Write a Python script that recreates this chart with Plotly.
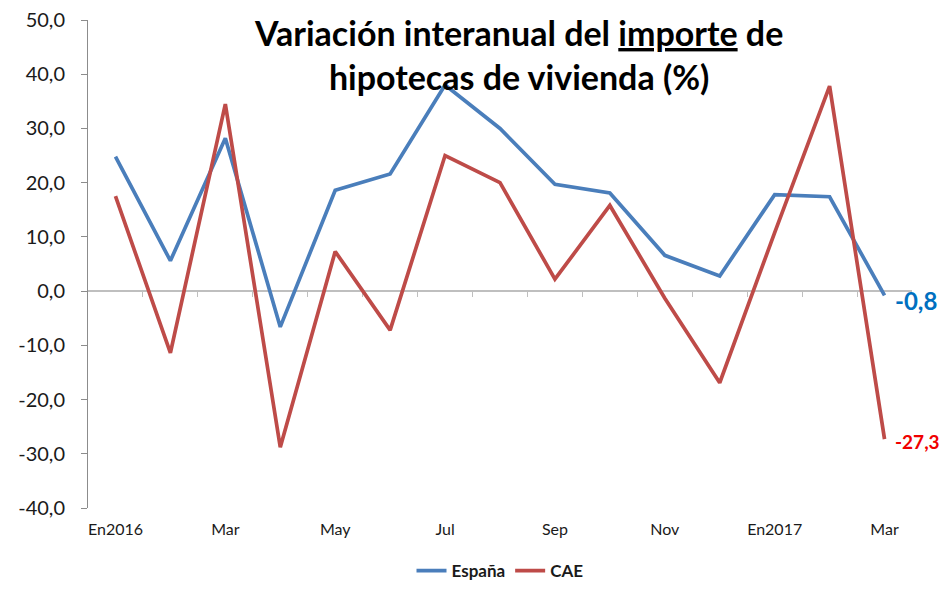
import plotly.graph_objects as go

# Months shown on the horizontal axis (only every other one gets a label).
months = ["En2016", "Feb", "Mar", "Abr", "May", "Jun", "Jul", "Ago",
          "Sep", "Oct", "Nov", "Dic", "En2017", "Feb", "Mar"]

# Year-on-year change in mortgage amount (%).
espana = [24.8, 5.6, 28.2, -6.6, 18.6, 21.6, 38.0, 30.0,
          19.7, 18.1, 6.6, 2.8, 17.8, 17.4, -0.8]
cae = [17.5, -11.4, 34.5, -28.8, 7.3, -7.2, 25.0, 20.0,
       2.2, 15.8, -1.3, -16.9, 10.8, 37.8, -27.3]

y_ticks = [-40, -30, -20, -10, 0, 10, 20, 30, 40, 50]

BLUE = "#4A7EBB"
RED = "#BE4B48"
AXIS_GREY = "#8C8C8C"
FONT = "Lato"


def fmt(value: float) -> str:
    """Spanish style number: comma decimal, plain hyphen for minus."""
    return f"{value:.1f}".replace(".", ",")


def main() -> None:
    """Build the chart and write it to out.html."""
    x = list(range(len(months)))

    fig = go.Figure()
    fig.add_trace(go.Scatter(x=x, y=espana, mode="lines",
                             name="<b>España</b>",
                             line=dict(color=BLUE, width=3.7)))
    fig.add_trace(go.Scatter(x=x, y=cae, mode="lines", name="<b>CAE</b>",
                             line=dict(color=RED, width=3.7)))
    # Invisible trace so the zero-line axis gets drawn.
    fig.add_trace(go.Scatter(x=[x[0]], y=[0], xaxis="x2", mode="none",
                             showlegend=False, hoverinfo="skip"))

    # Last values labelled at the end of each line.
    fig.add_annotation(x=x[-1], y=espana[-1],
                       text=f"<b>{fmt(espana[-1])}</b>",
                       showarrow=False, xanchor="left", yanchor="middle",
                       xshift=8, yshift=-5,
                       font=dict(family=FONT, size=24, color="#0070C0"))
    fig.add_annotation(x=x[-1], y=cae[-1],
                       text=f"<b>{fmt(cae[-1])}</b>",
                       showarrow=False, xanchor="left", yanchor="middle",
                       xshift=8, yshift=-2,
                       font=dict(family=FONT, size=19, color="#F00000"))

    # Title inside the plot area.
    fig.add_annotation(
        xref="paper", yref="paper", x=0.522, y=1.02,
        text="<b>Variación interanual del <u>importe</u> de<br>"
             "hipotecas de vivienda (%)</b>",
        showarrow=False, xanchor="center", yanchor="top", align="center",
        font=dict(family=FONT, size=34, color="#000000"),
    )

    lo, hi = y_ticks[0], y_ticks[-1]
    fig.update_layout(
        width=946,
        height=589,
        margin=dict(l=88, r=34, t=20, b=81),
        plot_bgcolor="white",
        paper_bgcolor="white",
        font=dict(family=FONT, color="#1A1A1A"),
        showlegend=True,
        legend=dict(orientation="h", x=0.5, xanchor="center",
                    yref="container", y=0.0, yanchor="bottom",
                    bgcolor="rgba(0,0,0,0)",
                    font=dict(family=FONT, size=17, color="#1A1A1A"),
                    itemwidth=30, tracegroupgap=0),
        xaxis=dict(
            range=[-0.5, len(months) - 0.5],
            tickvals=x[::2],
            ticktext=months[::2],
            showline=False,
            showgrid=False,
            zeroline=False,
            ticks="",
            ticklabelstandoff=10,
            tickfont=dict(size=16),
            automargin=False,
        ),
        xaxis2=dict(
            overlaying="x",
            anchor="free",
            position=(0 - lo) / (hi - lo),
            range=[-0.5, len(months) - 0.5],
            tickvals=[i + 0.5 for i in x[:-1]],
            showticklabels=False,
            showline=True,
            linecolor="#BFBFBF",
            linewidth=1.5,
            ticks="outside",
            ticklen=5,
            tickcolor="#BFBFBF",
            showgrid=False,
            zeroline=False,
            layer="below traces",
            automargin=False,
        ),
        yaxis=dict(
            range=[lo, hi],
            tickvals=y_ticks,
            ticktext=[fmt(v) for v in y_ticks],
            showline=True,
            linecolor=AXIS_GREY,
            ticks="outside",
            ticklen=6,
            tickcolor=AXIS_GREY,
            ticklabelstandoff=12,
            showgrid=False,
            zeroline=False,
            tickfont=dict(size=20),
            layer="below traces",
            automargin=False,
        ),
    )

    # Drop the browser's default body margin so the figure fills the window.
    fig.write_html("out.html", config={"displayModeBar": False},
                   post_script="document.body.style.margin='0';")


if __name__ == "__main__":
    main()
